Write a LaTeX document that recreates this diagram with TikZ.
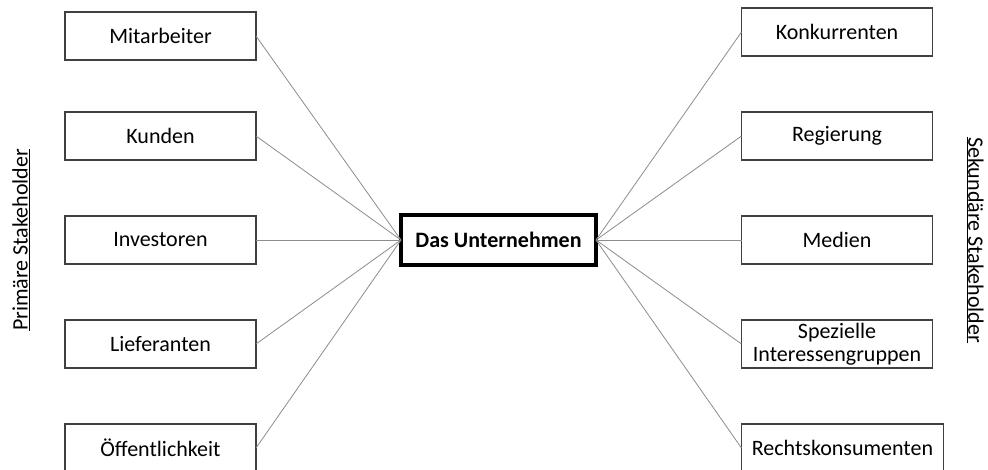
\documentclass[tikz,border=0pt]{standalone}
\usepackage{fontspec}
\setmainfont{Carlito}
\usetikzlibrary{positioning}

\begin{document}
\begin{tikzpicture}[
    x=1pt, y=-1pt,
    box/.style={
        rectangle,
        draw=black!75,
        line width=1.2pt,
        minimum width=191pt,
        minimum height=48pt,
        inner ysep=1pt,
        outer sep=0pt,
        align=center,
        font=\fontsize{22}{23}\selectfont
    },
    company/.style={
        box,
        draw=black,
        line width=3.5pt,
        minimum width=195pt,
        minimum height=50pt,
        font=\fontsize{22}{23}\selectfont\bfseries
    },
    link/.style={
        draw=gray!90,
        line width=0.8pt
    },
    side_label/.style={
        font=\fontsize{22}{23}\selectfont,
        inner sep=0pt
    }
]
    \useasboundingbox (0,0) rectangle (988,469);

    % -- Center --
    \node[company] (unternehmen) at (498.5,240) {Das Unternehmen};

    % -- Primary stakeholders (left) --
    \node[box] (mitarbeiter) at (160.5,36) {Mitarbeiter};
    \node[box, below=52pt of mitarbeiter] (kunden) {Kunden};
    \node[box, below=56pt of kunden] (investoren) {Investoren};
    \node[box, below=56pt of investoren] (lieferanten) {Lieferanten};
    \node[box, below=56pt of lieferanten] (oeffentlichkeit) {Öffentlichkeit};

    % -- Secondary stakeholders (right) --
    \node[box] (konkurrenten) at (837,32) {Konkurrenten};
    \node[box, below=56pt of konkurrenten] (regierung) {Regierung};
    \node[box, below=56pt of regierung] (medien) {Medien};
    \node[box, below=56pt of medien] (interessen) {Spezielle\\Interessengruppen};
    \node[box, minimum width=202pt, below right=56pt and 0pt of interessen.south west] (rechtskons) {Rechtskonsumenten};

    % Side labels
    \node[side_label, rotate=90] (primaer) at (21,240) {\underline{Primäre Stakeholder}};
    \node[side_label, rotate=-90] (sekundaer) at (975,240) {\underline{Sekundäre Stakeholder}};

    % Connectors
    \draw[link] (mitarbeiter.east) -- (unternehmen.west);
    \draw[link] (kunden.east) -- (unternehmen.west);
    \draw[link] (investoren.east) -- (unternehmen.west);
    \draw[link] (lieferanten.east) -- (unternehmen.west);
    \draw[link] (oeffentlichkeit.east) -- (unternehmen.west);

    \draw[link] (unternehmen.east) -- (konkurrenten.west);
    \draw[link] (unternehmen.east) -- (regierung.west);
    \draw[link] (unternehmen.east) -- (medien.west);
    \draw[link] (unternehmen.east) -- (interessen.west);
    \draw[link] (unternehmen.east) -- (rechtskons.west);

\end{tikzpicture}
\end{document}
